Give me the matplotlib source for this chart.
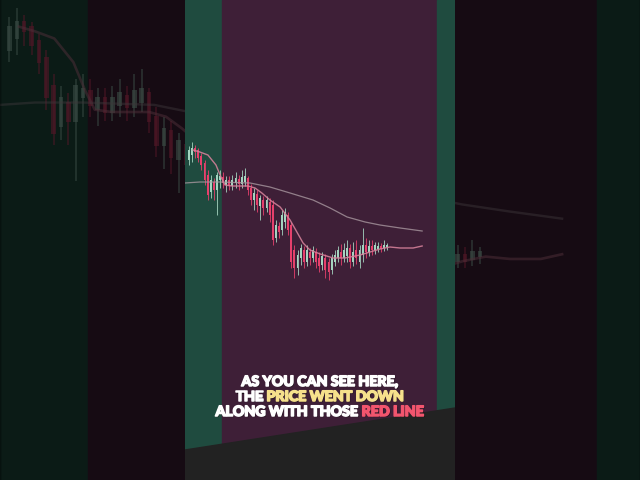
import matplotlib
matplotlib.use("Agg")
import matplotlib.pyplot as plt
from matplotlib.patches import Rectangle, Polygon
import matplotlib.patheffects as pe
import numpy as np

# ---------------- data ----------------
opens  = [320,325,332,330,324,317,305,288,298,290,300,303,295,300,294,297,301,296,298,302,
          292,280,286,274,280,272,278,275,242,254,250,258,265,255,230,212,222,230,218,228,
          222,228,222,215,222,218,210,218,222,228,222,224,232,218,230,218,225,235,228,234,
          230,231,234,232,233]
closes = [330,332,328,322,315,300,285,300,290,305,304,297,300,294,300,302,296,303,304,290,
          280,287,275,282,272,280,265,240,255,248,265,268,250,218,212,225,232,218,230,222,
          230,218,214,224,210,208,222,225,230,222,230,232,218,228,222,230,235,228,234,230,
          235,234,231,235,235]
highs  = [334,338,335,332,327,320,310,305,302,308,310,308,304,304,305,308,305,310,312,304,
          296,292,290,285,284,284,282,280,260,258,270,272,268,258,235,230,236,234,235,232,
          234,232,228,228,226,222,226,230,234,236,237,240,236,238,240,235,252,242,240,240,
          238,238,237,240,237]
lows   = [315,318,322,318,310,295,280,282,280,265,292,292,288,290,290,292,290,292,294,285,
          275,270,268,260,265,268,258,235,238,242,245,252,245,212,202,205,215,212,214,215,
          218,212,208,210,202,200,206,214,218,215,218,218,212,214,216,212,218,222,224,225,
          226,228,228,229,230]

fast_x = [1.3,3.5,6.1,8.7,10.3,11.6,13.9,16.5,19,21.3,23.5,26.1,29.4,32.6,34.8,36.8,39,
          42.3,46.5,50.3,55.2,58.4,61.6,64.8,68.1,72.3,75.2]
fast_y = [330,328,325,315,303,295,294,294,294,292,287,280,273,260,248,237,230,
          226,222,222,225,228,231,233,232,232,234]
slow_x = [-1.3,3.5,10,19.7,26.1,32.6,40,45.5,51,56.8,61.6,68.1,75.2]
slow_y = [297,298,298,297,293,287,280,272,263,258,255,252,249]

caption = [
    [("AS YOU CAN SEE HERE,", "#ffffff")],
    [("THE ", "#ffffff"), ("PRICE WENT DOWN", "#f6e08c")],
    [("ALONG WITH THOSE ", "#ffffff"), ("RED LINE", "#f2556e")],
]

TEAL = "#1f4b3f"
PURPLE = "#3e1f37"
UP = "#a4d4c0"
DOWN = "#e6406c"
FAST = "#d27f98"
SLOW = "#a8979f"

W, H = 640, 480
fig = plt.figure(figsize=(6.4, 4.8), dpi=100)
fig.patch.set_facecolor("#0b0b0b")

XLIM = (-1.29, 85.8)
YLIM = (0, 480)

def draw_panel(ax, scale=1.0, alpha=1.0):
    ax.set_xlim(*XLIM)
    ax.set_ylim(*YLIM)
    ax.axis("off")
    ax.add_patch(Rectangle((0, 0), 37/270, 1, transform=ax.transAxes, color=TEAL, zorder=0))
    ax.add_patch(Rectangle((37/270, 0), 215/270, 1, transform=ax.transAxes, color=PURPLE, zorder=0))
    ax.add_patch(Rectangle((252/270, 0), 18/270, 1, transform=ax.transAxes, color=TEAL, zorder=0))
    idx = np.arange(len(opens))
    o = np.array(opens); c = np.array(closes)
    cols = [UP if cc >= oo else DOWN for oo, cc in zip(o, c)]
    ax.vlines(idx, lows, highs, colors=cols, linewidth=0.6*scale, alpha=alpha, zorder=2)
    ax.bar(idx, np.abs(c - o) + 0.6, bottom=np.minimum(o, c) - 0.3, width=0.62,
           color=cols, alpha=alpha, zorder=3, linewidth=0)
    ax.plot(slow_x, slow_y, color=SLOW, lw=0.9*scale, alpha=0.8*alpha, zorder=4)
    ax.plot(fast_x, fast_y, color=FAST, lw=1.0*scale, alpha=0.9*alpha, zorder=4)

# background: the same panel enlarged and dimmed
s = 640/270
ax_bg = fig.add_axes([0, 0.5 - s/2, 1.0, s], zorder=0)
draw_panel(ax_bg, scale=s*0.8, alpha=0.6)
ax_bg.add_patch(Rectangle((0, 0), 1, 1, transform=ax_bg.transAxes, color="black",
                          alpha=0.64, zorder=10))

# main panel
ax = fig.add_axes([185/640, 0, 270/640, 1], zorder=2)
draw_panel(ax)
ax.add_patch(Polygon([(0, 0), (0, 1 - 450/480), (1, 1 - 408/480), (1, 0)], closed=True,
                     transform=ax.transAxes, color="#222222", zorder=6))

# caption
fig.canvas.draw()
renderer = fig.canvas.get_renderer()
tprops = dict(fontsize=10.2, fontweight="black", family=["Lato", "DejaVu Sans"],
              va="center", ha="left", zorder=20)

def twidth(s_):
    t = fig.text(0, 0, s_, **tprops)
    w = t.get_window_extent(renderer).width
    t.remove()
    return w

ys = [382, 397, 412]
for line, ypx in zip(caption, ys):
    full = "".join(p for p, _ in line)
    total = twidth(full) + 1.5
    x0 = 320.5 - total/2
    bar = twidth("|")
    prefix = ""
    for piece, col in line:
        off = (twidth(prefix + "|") - bar) if prefix else 0
        fig.text((x0 + off)/W, 1 - ypx/H, piece, color=col,
                 path_effects=[pe.withSimplePatchShadow(offset=(0.8, -0.8), shadow_rgbFace="black", alpha=0.55),
                               pe.withStroke(linewidth=1.1, foreground=col)],
                 **tprops)
        prefix += piece

fig.savefig("out.png", dpi=100, facecolor=fig.get_facecolor())
